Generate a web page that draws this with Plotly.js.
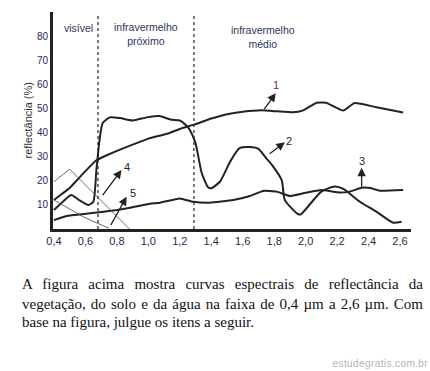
<!DOCTYPE html>
<html>
<head>
<meta charset="utf-8">
<script src="https://cdn.plot.ly/plotly-3.0.1.min.js"></script>
<style>
  html, body { margin:0; padding:0; background:#fff; }
  #wrap { position:relative; width:430px; height:371px; overflow:hidden; }
  #chart { position:absolute; left:0; top:0; width:430px; height:371px; }
  .para { position:absolute; left:22px; width:401px; font-family:"Liberation Serif","Times New Roman",serif; font-size:15px; line-height:19px; color:#111; white-space:nowrap; }
  .just { text-align:justify; text-align-last:justify; white-space:normal; }
  #wm { position:absolute; right:2px; top:358px; font-family:"Liberation Sans",Arial,sans-serif; font-size:10px; letter-spacing:0.4px; color:#b4b4b4; }
</style>
</head>
<body>
<div id="wrap">
  <div id="chart"></div>
  <div class="para just" style="top:275px;">A figura acima mostra curvas espectrais de reflectância da</div>
  <div class="para just" style="top:295px;">vegetação, do solo e da água na faixa de 0,4 µm a 2,6 µm. Com</div>
  <div class="para" style="top:313px;">base na figura, julgue os itens a seguir.</div>
  <div id="wm">estudegratis.com.br</div>
</div>
<script>
// ---- data (wavelength in µm, reflectance in %) ----
const wl1   = [0.40, 0.45, 0.50, 0.55, 0.60, 0.67, 0.75, 0.90, 1.00, 1.12, 1.20, 1.30, 1.40, 1.50, 1.60, 1.72, 1.82, 1.92, 1.98, 2.07, 2.13, 2.24, 2.31, 2.45, 2.62];
const refl1 = [12.0, 14.5, 17.0, 20.5, 24.0, 28.5, 31.0, 35.0, 37.5, 39.5, 41.5, 43.5, 45.8, 47.6, 48.6, 49.2, 48.8, 48.4, 49.1, 52.4, 52.4, 49.1, 52.2, 50.5, 48.3];

const wl2   = [0.40, 0.46, 0.51, 0.56, 0.62, 0.65, 0.67, 0.69, 0.71, 0.756, 0.82, 0.90, 0.99, 1.07, 1.14, 1.20, 1.24, 1.265, 1.30, 1.34, 1.38, 1.40, 1.455, 1.52, 1.58, 1.646, 1.70, 1.75, 1.794, 1.848, 1.868, 1.953, 1.97, 2.10, 2.186, 2.24, 2.345, 2.45, 2.557, 2.61];
const refl2 = [7.9, 11.5, 14.1, 12.0, 10.0, 11.3, 24.5, 37.0, 44.0, 46.3, 46.0, 45.0, 46.3, 46.9, 45.4, 45.0, 43.0, 41.0, 35.6, 23.1, 17.3, 16.9, 19.6, 27.9, 33.5, 34.0, 33.2, 29.3, 25.9, 20.3, 12.0, 6.1, 6.1, 15.5, 17.6, 16.6, 11.3, 7.2, 2.6, 3.0];

const wl3   = [0.40, 0.48, 0.63, 0.80, 0.883, 1.01, 1.074, 1.20, 1.285, 1.39, 1.54, 1.646, 1.73, 1.816, 1.90, 1.985, 2.10, 2.218, 2.28, 2.356, 2.41, 2.47, 2.62];
const refl3 = [3.7, 5.4, 6.5, 7.9, 8.8, 10.5, 10.9, 12.7, 11.3, 10.9, 12.0, 13.7, 15.8, 15.5, 13.7, 14.8, 16.2, 15.1, 15.5, 17.1, 17.0, 15.9, 16.2];

const wl4   = [0.40, 0.50, 0.88];
const refl4 = [19.6, 24.8, 0.0];

const wl5   = [0.40, 0.50, 0.586, 0.68, 0.75];
const refl5 = [12.0, 8.3, 5.1, 2.3, 0.3];

const regionBounds = [0.68, 1.29];
const regionNames  = ["visível", "infravermelho<br>próximo", "infravermelho<br>médio"];
const regionX      = [0.553, 0.985, 1.729];
const regionY      = [83.4, 80.7, 79.7];

const curveLabels = ["1", "2", "3", "4", "5"];
const arrowFromX  = [1.73, 1.762, 2.356, 0.703, 0.756];
const arrowFromY  = [49.1, 30.7, 16.9, 13.4, 1.0];
const arrowToX    = [1.81, 1.868, 2.356, 0.83, 0.862];
const arrowToY    = [56.3, 36.0, 25.4, 24.5, 13.4];
const labelX      = [1.811, 1.896, 2.356, 0.866, 0.904];
const labelY      = [59.8, 36.4, 28.4, 25.8, 15.0];
const labelColors = ["#7a1f3d", "#222222", "#1b2a4a", "#222222", "#222222"];

const xTickVals = [0.4, 0.6, 0.8, 1.0, 1.2, 1.4, 1.6, 1.8, 2.0, 2.2, 2.4, 2.6];
const xTickText = ["0,4", "0,6", "0,8", "1,0", "1,2", "1,4", "1,6", "1,8", "2,0", "2,2", "2,4", "2,6"];
const yTickVals = [10, 20, 30, 40, 50, 60, 70, 80];
const yTickText = ["10", "20", "30", "40", "50", "60", "70", "80"];
const yTitle = "reflectância (%)";

// ---- traces ----
const thick = {color: "#222", width: 2};
const thin  = {color: "#444", width: 0.8};
const traces = [
  {x: wl1, y: refl1, mode: "lines", line: Object.assign({shape: "spline", smoothing: 0.4}, thick)},
  {x: wl2, y: refl2, mode: "lines", line: Object.assign({shape: "spline", smoothing: 0.6}, thick)},
  {x: wl3, y: refl3, mode: "lines", line: Object.assign({shape: "spline", smoothing: 0.4}, thick)},
  {x: wl4, y: refl4, mode: "lines", line: thin},
  {x: wl5, y: refl5, mode: "lines", line: Object.assign({shape: "spline"}, thin)}
];

const shapes = regionBounds.map(b => ({
  type: "line", xref: "x", yref: "paper", x0: b, x1: b, y0: 0, y1: 0.985,
  line: {color: "#222", width: 1.2, dash: "dot"}
}));

const annotations = [];
regionNames.forEach((t, i) => annotations.push({
  x: regionX[i], y: regionY[i], xref: "x", yref: "y", text: t, showarrow: false,
  font: {family: "Liberation Sans, Arial, sans-serif", size: 10.5, color: "#2b3560"}
}));
curveLabels.forEach((t, i) => {
  annotations.push({
    x: arrowToX[i], y: arrowToY[i], ax: arrowFromX[i], ay: arrowFromY[i],
    xref: "x", yref: "y", axref: "x", ayref: "y", text: "", showarrow: true,
    arrowhead: 2, arrowsize: 1.3, arrowwidth: 1.3, arrowcolor: "#222"
  });
  annotations.push({
    x: labelX[i], y: labelY[i], xref: "x", yref: "y", text: t, showarrow: false,
    font: {family: "Liberation Sans, Arial, sans-serif", size: 11, color: labelColors[i]}
  });
});
// y-axis title, placed as a rotated annotation
annotations.push({
  xref: "paper", yref: "paper", x: -0.07, y: 0.5, text: yTitle, showarrow: false,
  textangle: -90, xanchor: "center", yanchor: "middle",
  font: {family: "Liberation Sans, Arial, sans-serif", size: 11, color: "#333"}
});

const layout = {
  width: 430, height: 371,
  margin: {l: 53, r: 19, t: 12, b: 142, pad: 0},
  paper_bgcolor: "rgba(0,0,0,0)", plot_bgcolor: "rgba(0,0,0,0)",
  showlegend: false,
  xaxis: {
    range: [0.394, 2.67], showgrid: false, zeroline: false,
    showline: true, linewidth: 3, linecolor: "#222", ticks: "",
    tickvals: xTickVals, ticktext: xTickText,
    tickfont: {family: "Liberation Sans, Arial, sans-serif", size: 11, color: "#1f2a4a"}
  },
  yaxis: {
    range: [0, 90], showgrid: false, zeroline: false,
    showline: true, linewidth: 3, linecolor: "#222", ticks: "",
    tickvals: yTickVals, ticktext: yTickText,
    tickfont: {family: "Liberation Sans, Arial, sans-serif", size: 10, color: "#1f2a4a"}
  },
  shapes: shapes,
  annotations: annotations
};

Plotly.newPlot("chart", traces, layout, {staticPlot: true, displayModeBar: false});
</script>
</body>
</html>
